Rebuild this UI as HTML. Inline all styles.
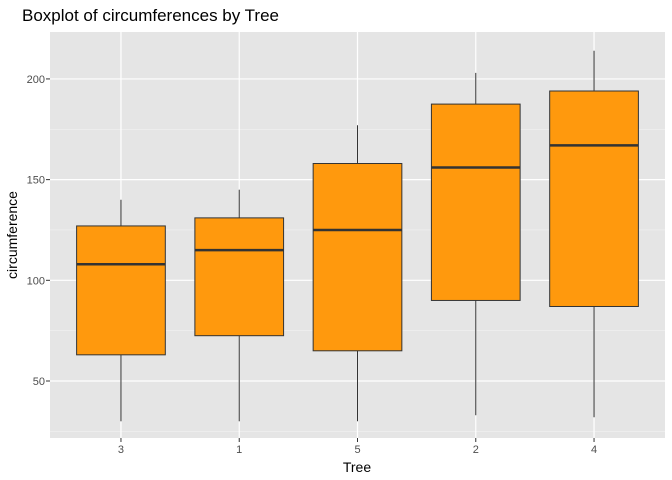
<!DOCTYPE html>
<html><head><meta charset="utf-8"><style>
body{margin:0;background:#fff;}
svg{display:block;font-family:"Liberation Sans",Arial,sans-serif;}
</style></head><body>
<svg id="chart" width="672" height="480">
<text x="22" y="21" font-size="17" fill="#000">Boxplot of circumferences by Tree</text>
<rect x="50" y="32" width="615" height="406" fill="#e5e5e5"/>
<g id="grid"></g><g id="boxes"></g><g id="axes"></g>
<text x="357" y="472" font-size="14" text-anchor="middle">Tree</text>
<text transform="translate(17,235) rotate(-90)" font-size="14" text-anchor="middle">circumference</text>
</svg>
<script>
const categories=["3","1","5","2","4"];
const mins=[30,30,30,33,32];
const q1s=[63,72.5,65,90,87];
const medians=[108,115,125,156,167];
const q3s=[127,131,158,187.5,194];
const maxs=[140,145,177,203,214];
const yTicks=[50,100,150,200];
const yMinor=[25,75,125,175];
const NS="http://www.w3.org/2000/svg";
const px0=50,px1=665,py0=438,py1=32;
const ymin=21.7,ymax=223.3;
function y(v){return py0-(v-ymin)/(ymax-ymin)*(py0-py1);}
function x(i){return px0+(i+0.6)/5.2*(px1-px0);}
function mk(p,t,a){const e=document.createElementNS(NS,t);for(const k in a)e.setAttribute(k,a[k]);p.appendChild(e);return e;}
const g=document.getElementById('grid'),b=document.getElementById('boxes'),ax=document.getElementById('axes');
yMinor.forEach(v=>{const l=mk(g,'line',{x1:px0,x2:px1,y1:y(v),y2:y(v),stroke:'#f2f2f2','stroke-width':0.6});

});
yTicks.forEach(v=>{const l=mk(g,'line',{x1:px0,x2:px1,y1:y(v),y2:y(v),stroke:'#fff','stroke-width':1.2});


const t=mk(ax,'text',{x:45,y:y(v)+4,'font-size':11,'text-anchor':'end',fill:'#4d4d4d'});t.textContent=v;


mk(ax,'line',{x1:46,x2:50,y1:y(v),y2:y(v),stroke:'#333'});});
const bw=0.75/5.2*(px1-px0);
categories.forEach((c,i)=>{const cx=x(i);
const gl=mk(g,'line',{x1:cx,x2:cx,y1:py1,y2:py0,stroke:'#fff','stroke-width':1.2});


const grp=mk(b,'g',{});


mk(grp,'line',{x1:cx,x2:cx,y1:y(maxs[i]),y2:y(q3s[i]),stroke:'#333','stroke-width':1});
mk(grp,'line',{x1:cx,x2:cx,y1:y(q1s[i]),y2:y(mins[i]),stroke:'#333','stroke-width':1});
mk(grp,'rect',{x:cx-bw/2,y:y(q3s[i]),width:bw,height:y(q1s[i])-y(q3s[i]),fill:'#ff990d',stroke:'#333','stroke-width':1});
mk(grp,'line',{x1:cx-bw/2,x2:cx+bw/2,y1:y(medians[i]),y2:y(medians[i]),stroke:'#333','stroke-width':2.5});
mk(ax,'line',{x1:cx,x2:cx,y1:py0,y2:py0+4,stroke:'#333'});
const t=mk(ax,'text',{x:cx,y:453,'font-size':11,'text-anchor':'middle',fill:'#4d4d4d'});t.textContent=c;

});
</script>
</body></html>
